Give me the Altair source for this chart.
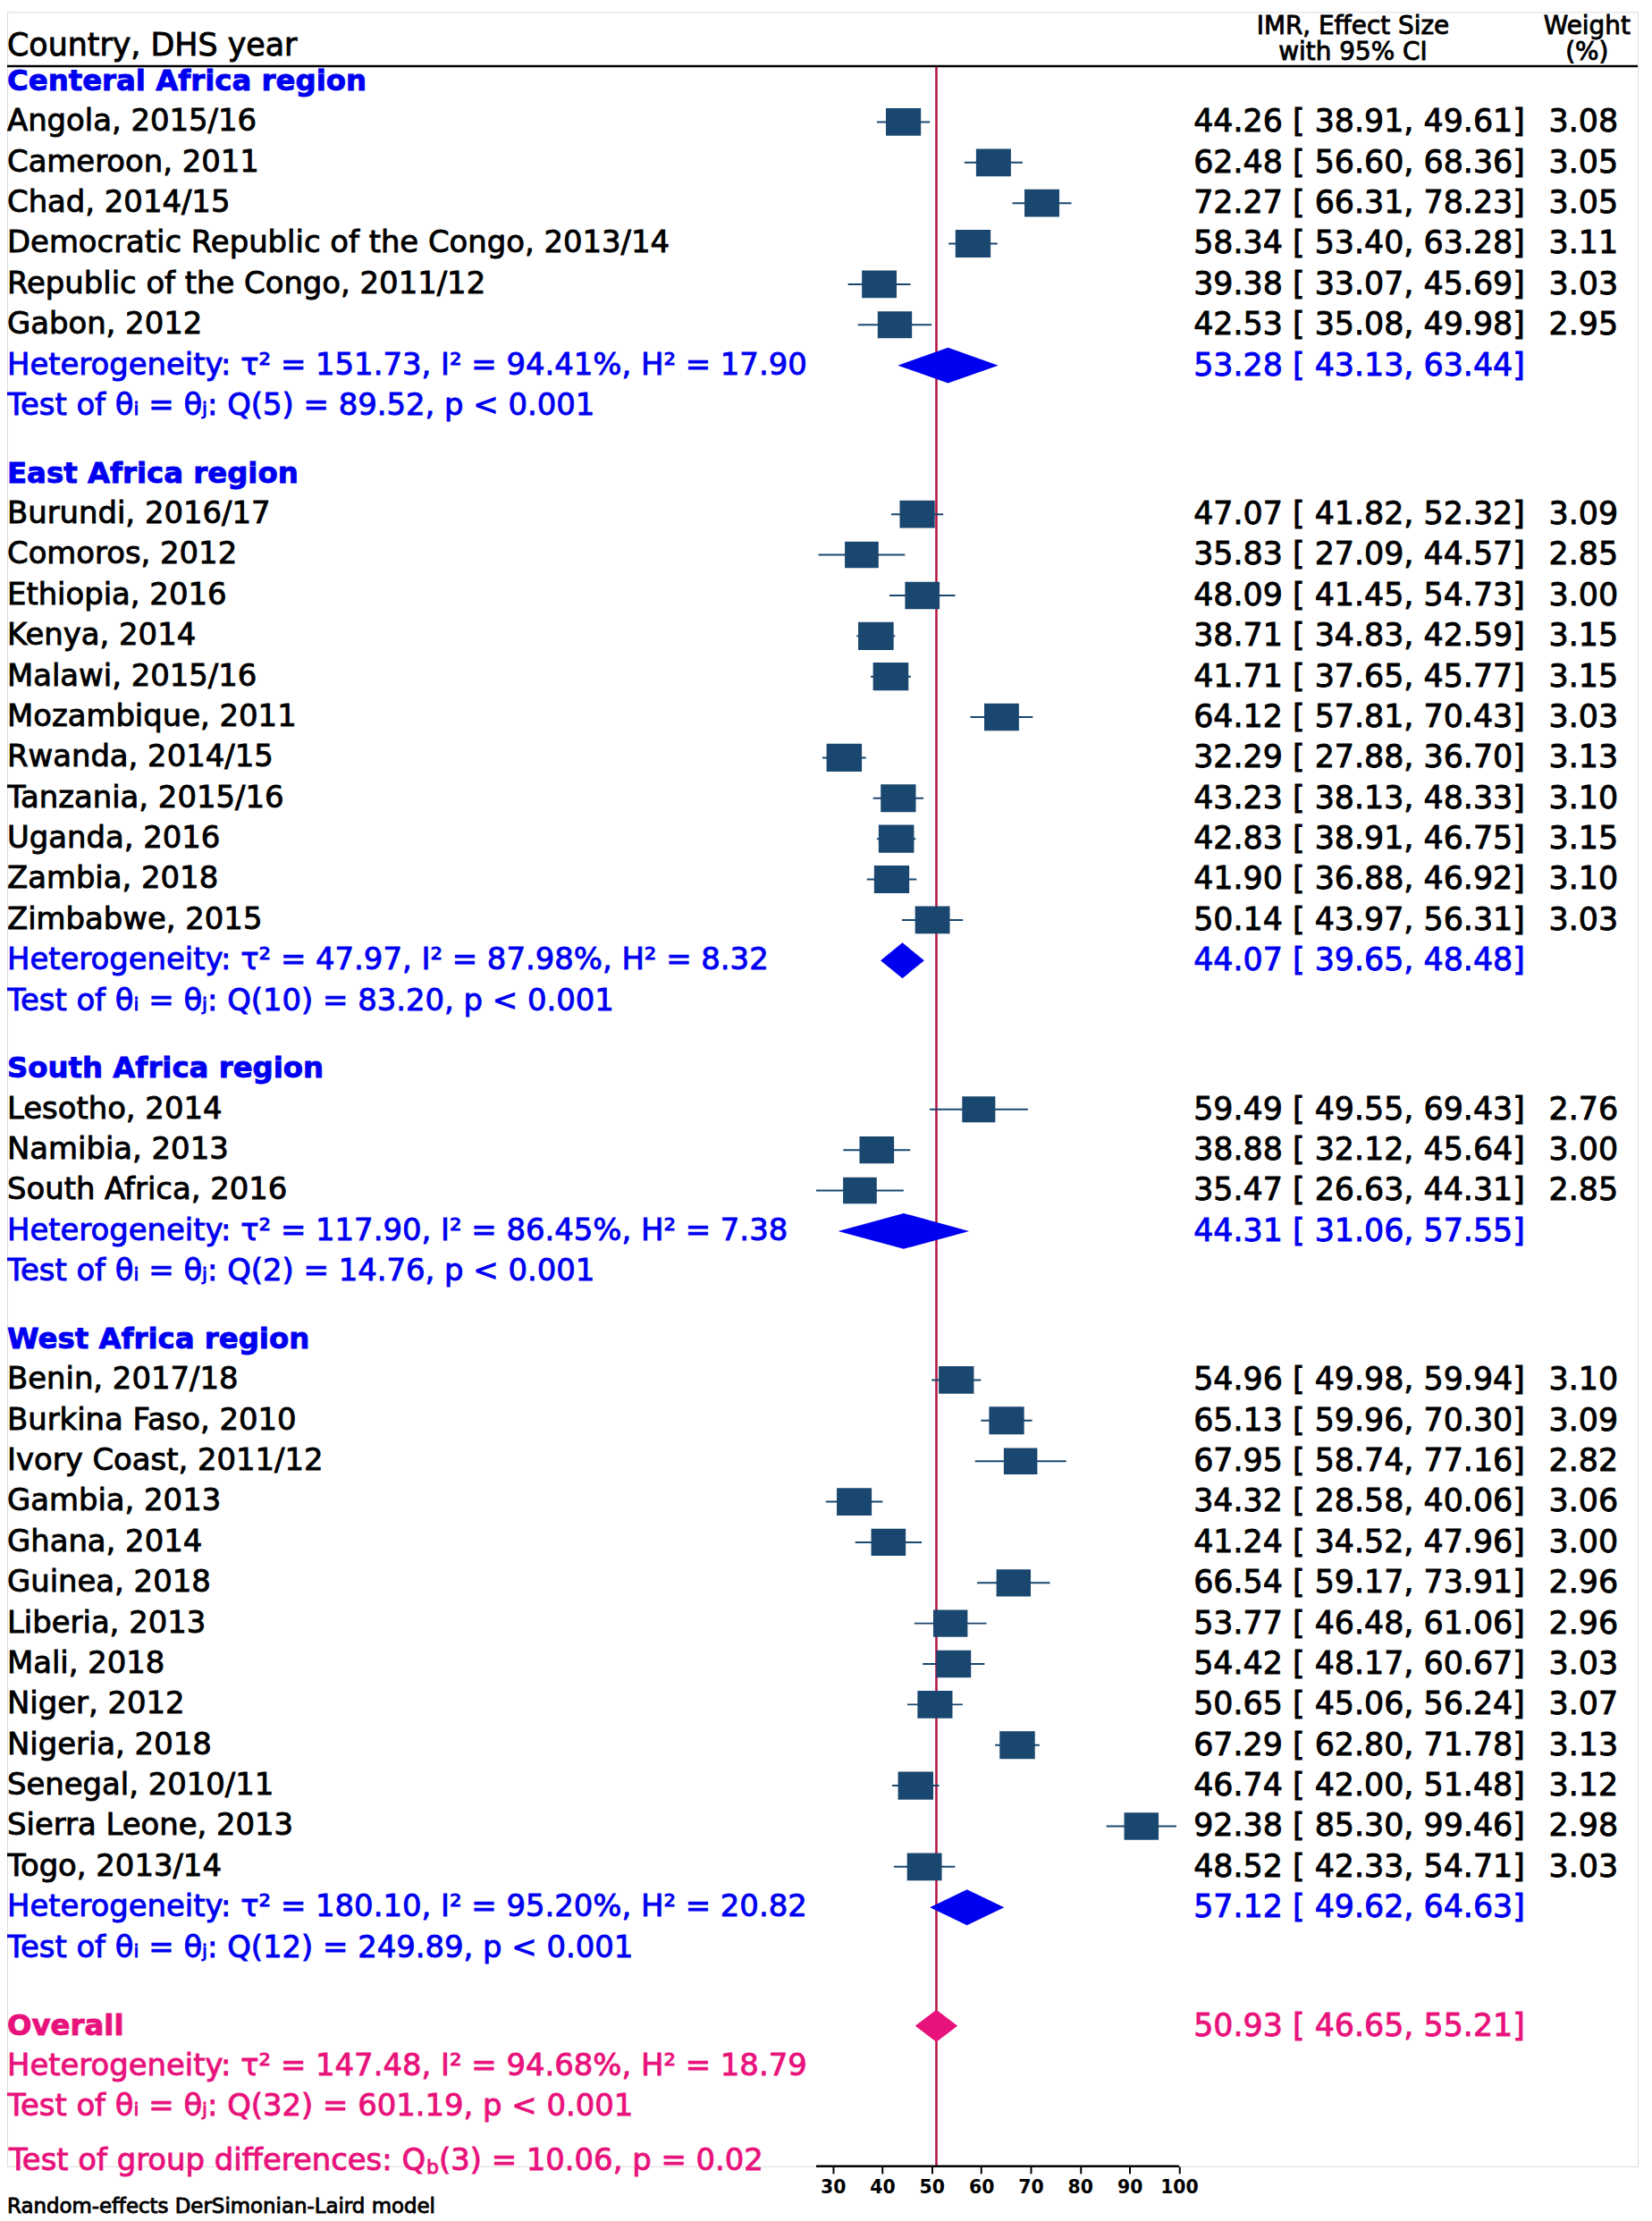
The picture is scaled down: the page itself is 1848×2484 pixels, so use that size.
import altair as alt
import pandas as pd

# ---------------- data ----------------
central_countries = ["Angola, 2015/16", "Cameroon, 2011", "Chad, 2014/15",
                     "Democratic Republic of the Congo, 2013/14",
                     "Republic of the Congo, 2011/12", "Gabon, 2012"]
central_es = [44.26, 62.48, 72.27, 58.34, 39.38, 42.53]
central_lo = [38.91, 56.60, 66.31, 53.40, 33.07, 35.08]
central_hi = [49.61, 68.36, 78.23, 63.28, 45.69, 49.98]
central_w = [3.08, 3.05, 3.05, 3.11, 3.03, 2.95]

east_countries = ["Burundi, 2016/17", "Comoros, 2012", "Ethiopia, 2016", "Kenya, 2014",
                  "Malawi, 2015/16", "Mozambique, 2011", "Rwanda, 2014/15",
                  "Tanzania, 2015/16", "Uganda, 2016", "Zambia, 2018", "Zimbabwe, 2015"]
east_es = [47.07, 35.83, 48.09, 38.71, 41.71, 64.12, 32.29, 43.23, 42.83, 41.90, 50.14]
east_lo = [41.82, 27.09, 41.45, 34.83, 37.65, 57.81, 27.88, 38.13, 38.91, 36.88, 43.97]
east_hi = [52.32, 44.57, 54.73, 42.59, 45.77, 70.43, 36.70, 48.33, 46.75, 46.92, 56.31]
east_w = [3.09, 2.85, 3.00, 3.15, 3.15, 3.03, 3.13, 3.10, 3.15, 3.10, 3.03]

south_countries = ["Lesotho, 2014", "Namibia, 2013", "South Africa, 2016"]
south_es = [59.49, 38.88, 35.47]
south_lo = [49.55, 32.12, 26.63]
south_hi = [69.43, 45.64, 44.31]
south_w = [2.76, 3.00, 2.85]

west_countries = ["Benin, 2017/18", "Burkina Faso, 2010", "Ivory Coast, 2011/12",
                  "Gambia, 2013", "Ghana, 2014", "Guinea, 2018", "Liberia, 2013",
                  "Mali, 2018", "Niger, 2012", "Nigeria, 2018", "Senegal, 2010/11",
                  "Sierra Leone, 2013", "Togo, 2013/14"]
west_es = [54.96, 65.13, 67.95, 34.32, 41.24, 66.54, 53.77, 54.42, 50.65, 67.29, 46.74, 92.38, 48.52]
west_lo = [49.98, 59.96, 58.74, 28.58, 34.52, 59.17, 46.48, 48.17, 45.06, 62.80, 42.00, 85.30, 42.33]
west_hi = [59.94, 70.30, 77.16, 40.06, 47.96, 73.91, 61.06, 60.67, 56.24, 71.78, 51.48, 99.46, 54.71]
west_w = [3.10, 3.09, 2.82, 3.06, 3.00, 2.96, 2.96, 3.03, 3.07, 3.13, 3.12, 2.98, 3.03]

region_names = ["Centeral Africa region", "East Africa region",
                "South Africa region", "West Africa region"]
region_es = [53.28, 44.07, 44.31, 57.12]
region_lo = [43.13, 39.65, 31.06, 49.62]
region_hi = [63.44, 48.48, 57.55, 64.63]
region_tau2 = ["151.73", "47.97", "117.90", "180.10"]
region_i2 = ["94.41", "87.98", "86.45", "95.20"]
region_h2 = ["17.90", "8.32", "7.38", "20.82"]
region_qdf = [5, 10, 2, 12]
region_q = ["89.52", "83.20", "14.76", "249.89"]

overall_es = 50.93
overall_lo = 46.65
overall_hi = 55.21
overall_tau2 = "147.48"
overall_i2 = "94.68"
overall_h2 = "18.79"
overall_qdf = 32
overall_q = "601.19"

groupdiff_df = 3
groupdiff_q = "10.06"
groupdiff_p = "0.02"

x_ticks = [30, 40, 50, 60, 70, 80, 90, 100]

# ---------------- layout ----------------
W, H = 1832, 2420
PX_PER_UNIT = 5.557
X30 = 927.7                       # pixel position of value 30 inside the view
x_dom = [30 - X30 / PX_PER_UNIT, 30 + (W - X30) / PX_PER_UNIT]
ROW = 45.57
Y0 = 78.0                         # pixel position of row 0 inside the view
y_dom = [-Y0 / ROW, (H - Y0) / ROW]
GROUP_GAP = 1.67
OVERALL_GAP = 1.92
GD_GAP = 1.34

FONT = "DejaVu Sans"
FS = 34
FS_NUM = 35
FS_B = 32.5
TSTROKE = 0.9
BLACK = "#000000"
BLUE = "#0000f0"
PINK = "#e8127c"
NAVY = "#1a476f"
RED = "#b81140"

xscale = alt.Scale(domain=x_dom, nice=False, zero=False)
yscale = alt.Scale(domain=y_dom, nice=False, zero=False, reverse=True)
xaxis = alt.Axis(values=x_ticks, title=None, grid=False, domain=False, ticks=True,
                 tickSize=8, tickWidth=2, tickColor=BLACK, labelFont=FONT,
                 labelFontWeight="bold", labelFontSize=20.5, labelColor=BLACK,
                 labelPadding=6, labelFlush=False)


def ci_text(es, lo, hi):
    return f"{es:.2f} [{lo:6.2f}, {hi:6.2f}]"


def diamond(es, lo, hi, r, half_h_px, col):
    """A diamond symbol centred on the CI, its peak at the estimate."""
    cx = (lo + hi) / 2
    half_w_px = (hi - lo) / 2 * PX_PER_UNIT
    p = (es - cx) / ((hi - lo) / 2)
    hr = half_h_px / half_w_px
    path = f"M-1,0L{p:.4f},{-hr:.4f}L1,0L{p:.4f},{hr:.4f}Z"
    return {"cx": cx, "r": r, "path": path, "sz": (2 * half_w_px) ** 2, "col": col}


groups = [
    (central_countries, central_es, central_lo, central_hi, central_w),
    (east_countries, east_es, east_lo, east_hi, east_w),
    (south_countries, south_es, south_lo, south_hi, south_w),
    (west_countries, west_es, west_lo, west_hi, west_w),
]

study_rows, header_rows, het_rows, diamond_rows, region_ci_rows = [], [], [], [], []
r = 0.0
for gi, (names, es, lo, hi, w) in enumerate(groups):
    if gi > 0:
        r += GROUP_GAP
    header_rows.append({"r": r, "text": region_names[gi]})
    for n, e, l, h, ww in zip(names, es, lo, hi, w):
        r += 1
        study_rows.append({"r": r, "label": n, "es": e, "lo": l, "hi": h, "w": ww,
                           "ci": ci_text(e, l, h), "wt": f"{ww:.2f}"})
    r += 1
    het_rows.append({"r": r, "text": f"Heterogeneity: τ² = {region_tau2[gi]}, I² = {region_i2[gi]}%, H² = {region_h2[gi]}"})
    region_ci_rows.append({"r": r, "text": ci_text(region_es[gi], region_lo[gi], region_hi[gi])})
    diamond_rows.append(diamond(region_es[gi], region_lo[gi], region_hi[gi], r, 20, BLUE))
    r += 1
    het_rows.append({"r": r, "text": f"Test of θᵢ = θⱼ: Q({region_qdf[gi]}) = {region_q[gi]}, p < 0.001"})

r += OVERALL_GAP
diamond_rows.append(diamond(overall_es, overall_lo, overall_hi, r, 18, PINK))
overall_label = pd.DataFrame([{"r": r, "text": "Overall"}])
overall_ci = pd.DataFrame([{"r": r, "text": ci_text(overall_es, overall_lo, overall_hi)}])
overall_lines = pd.DataFrame([
    {"r": r + 1, "text": f"Heterogeneity: τ² = {overall_tau2}, I² = {overall_i2}%, H² = {overall_h2}"},
    {"r": r + 2, "text": f"Test of θᵢ = θⱼ: Q({overall_qdf}) = {overall_q}, p < 0.001"},
])
r_gd = r + 2 + GD_GAP

# group difference text split around the subscript "b"
DV = {"T": 1251, "e": 1260, "s": 1067, "t": 803, " ": 651, "o": 1253, "f": 721,
      "g": 1300, "r": 842, "u": 1298, "p": 1300, "d": 1300, "i": 569, "n": 1298,
      "c": 1126, ":": 690, "Q": 1612, "b": 1300}
gd_prefix = "Test of group differences: Q"
gd_sub = "b"
gd_rest = f"({groupdiff_df}) = {groupdiff_q}, p = {groupdiff_p}"
FS_SUB = 22
x_q_end = sum(DV[c] for c in gd_prefix) / 2048 * FS - 6
w_sub = DV["b"] / 2048 * FS_SUB

studies = pd.DataFrame(study_rows)
headers = pd.DataFrame(header_rows)
hets = pd.DataFrame(het_rows)
diamonds = pd.DataFrame(diamond_rows)
region_ci = pd.DataFrame(region_ci_rows)
gd_df = pd.DataFrame([{"r": r_gd, "a": gd_prefix, "b": gd_sub, "c": gd_rest}])
overall_df = pd.DataFrame([{"es": overall_es}])
axis_df = pd.DataFrame([{"a": studies["lo"].min(), "b": max(x_ticks)}])

Y = alt.Y("r:Q", scale=yscale, axis=None)


def text_layer(df, color, size=FS, weight="normal", x=0, align="left", field="text", dx=0, dy=0):
    return alt.Chart(df).mark_text(
        align=align, baseline="middle", font=FONT, fontSize=size, fontWeight=weight,
        color=color, stroke=color, strokeWidth=TSTROKE, dx=dx, dy=dy
    ).encode(x=alt.value(x), y=Y, text=f"{field}:N")


HEADER_LINE_Y = 61

header_line = alt.Chart(pd.DataFrame({"v": [0]})).mark_rule(color=BLACK, strokeWidth=2.5).encode(
    x=alt.value(0), x2=alt.value(W), y=alt.value(HEADER_LINE_Y))

ref_line = alt.Chart(overall_df).mark_rule(color=RED, strokeWidth=2.5).encode(
    x=alt.X("es:Q", scale=xscale, axis=xaxis), y=alt.value(HEADER_LINE_Y + 1), y2=alt.value(H))

axis_line = alt.Chart(axis_df).mark_rule(color=BLACK, strokeWidth=2.5).encode(
    x=alt.X("a:Q", scale=xscale, axis=xaxis), x2="b:Q", y=alt.value(H))

whiskers = alt.Chart(studies).mark_rule(color=NAVY, strokeWidth=2).encode(
    x=alt.X("lo:Q", scale=xscale, axis=xaxis), x2="hi:Q", y=Y)

boxes = alt.Chart(studies).mark_point(
    shape="M-1.27,-1L1.27,-1L1.27,1L-1.27,1Z", filled=True, opacity=1, color=NAVY, strokeWidth=0
).encode(
    x=alt.X("es:Q", scale=xscale, axis=xaxis), y=Y,
    size=alt.Size("w:Q", scale=alt.Scale(domain=[0, 3.08], range=[0, 960]), legend=None))

all_diamonds = alt.Chart(diamonds).mark_point(filled=True, opacity=1, strokeWidth=0).encode(
    x=alt.X("cx:Q", scale=xscale, axis=xaxis), y=Y,
    shape=alt.Shape("path:N", scale=None),
    size=alt.Size("sz:Q", scale=None),
    color=alt.Color("col:N", scale=None))

CI_X = 1333
WT_X = 1771

layers = [
    header_line, ref_line, axis_line, whiskers, boxes, all_diamonds,
    text_layer(headers, BLUE, FS_B, "bold"),
    text_layer(studies, BLACK, field="label"),
    text_layer(hets, BLUE),
    text_layer(overall_label, PINK, FS_B, "bold"),
    text_layer(overall_lines, PINK),
    text_layer(gd_df, PINK, x=x_q_end, align="right", field="a"),
    text_layer(gd_df, PINK, FS_SUB, x=x_q_end + 1, field="b", dy=7),
    text_layer(gd_df, PINK, x=x_q_end + 1 + w_sub, field="c"),
    text_layer(studies, BLACK, FS_NUM, x=CI_X, field="ci"),
    text_layer(studies, BLACK, FS_NUM, x=WT_X, align="center", field="wt"),
    text_layer(region_ci, BLUE, FS_NUM, x=CI_X),
    text_layer(overall_ci, PINK, FS_NUM, x=CI_X),
]


def fixed_text(text, x, y, size, align="left"):
    return alt.Chart(pd.DataFrame({"t": [text]})).mark_text(
        align=align, baseline="alphabetic", font=FONT, fontSize=size,
        color=BLACK, stroke=BLACK, strokeWidth=TSTROKE
    ).encode(x=alt.value(x), y=alt.value(y), text="t:N")


HEAD_FS = 28
layers += [
    fixed_text("Country, DHS year", 0, 49, 35),
    fixed_text("IMR, Effect Size", 1512, 25, HEAD_FS, "center"),
    fixed_text("with 95% CI", 1512, 54, HEAD_FS, "center"),
    fixed_text("Weight", 1775, 25, HEAD_FS, "center"),
    fixed_text("(%)", 1775, 54, HEAD_FS, "center"),
    fixed_text("Random-effects DerSimonian-Laird model", 0, 2472, 23),
]

chart = alt.layer(*layers).properties(
    width=W, height=H,
    padding={"left": 0, "top": 0, "right": 8, "bottom": 56},
    autosize=alt.AutoSizeParams(type="none"),
).configure_view(strokeWidth=0).configure(background="white")

chart.save("out.html", embed_options={"renderer": "svg", "actions": False})
